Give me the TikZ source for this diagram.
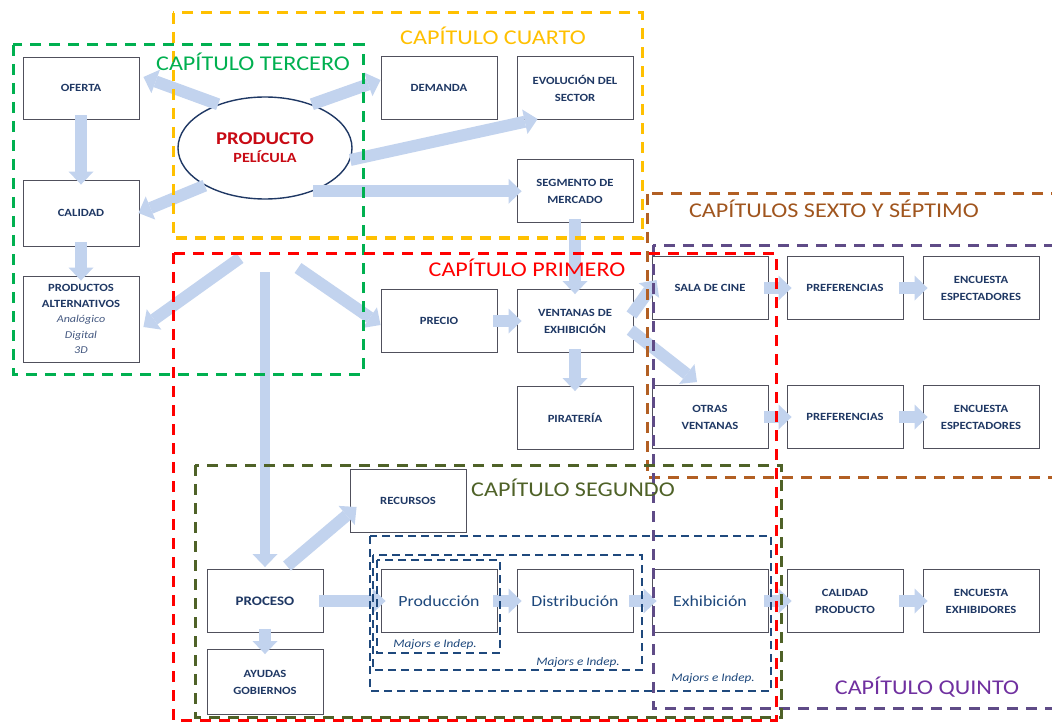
\documentclass[tikz,border=0pt]{standalone}
\usepackage{fontspec}
\setmainfont{Carlito}[FakeStretch=1.15]
\usetikzlibrary{arrows.meta,calc,shapes.geometric}
\definecolor{txtblue}{RGB}{31,56,100}
\definecolor{subblue}{RGB}{70,90,130}
\definecolor{arrowblue}{RGB}{194,211,238}
\definecolor{cgreen}{RGB}{0,176,80}
\definecolor{cyellow}{RGB}{255,192,0}
\definecolor{cred}{RGB}{255,0,0}
\definecolor{cbrown}{RGB}{178,95,35}
\definecolor{cbrowntxt}{RGB}{160,85,30}
\definecolor{cpurple}{RGB}{112,48,160}
\definecolor{cpurpleline}{RGB}{95,75,135}
\definecolor{colive}{RGB}{79,98,40}
\definecolor{cnavy}{RGB}{31,73,125}
\definecolor{boxline}{RGB}{80,80,92}
\definecolor{prodred}{RGB}{200,10,20}
\begin{document}
\begin{tikzpicture}[x=1pt,y=-1pt,
  box/.style={draw=boxline, line width=0.9pt, fill=white, minimum width=116pt,
    minimum height=63pt, inner sep=2pt, align=center,
    font=\fontsize{11}{17}\selectfont\bfseries, text=txtblue},
  bigbox/.style={box, font=\fontsize{15.5}{18}\selectfont, text=cnavy},
  blk/.style={line width=12pt, draw=arrowblue,
    -{Triangle[length=13pt 0 0, width=25pt 0 0, line width=0pt 0 0]}},
  blks/.style={blk, shorten <=-4pt, shorten >=-5pt},
  frame/.style={line width=3pt, dash pattern=on 11pt off 8pt},
  subframe/.style={draw=cnavy, line width=1.5pt, dash pattern=on 8pt off 5pt},
  chap/.style={font=\fontsize{21}{21}\selectfont, anchor=center, inner sep=0pt},
  note/.style={font=\fontsize{11.5}{12}\selectfont\itshape, text=cnavy, inner sep=0pt},
]
\useasboundingbox (0,0) rectangle (1052,722);
\clip (0,0) rectangle (1052,722);
\fill[white] (0,0) rectangle (1052,722);

% ---------- boxes ----------
\node[box, minimum height=62pt] (oferta) at (81,88) {OFERTA};
\node[box, minimum height=66pt] (calidad) at (81,213) {CALIDAD};
\node[box, minimum height=86pt, font=\fontsize{11}{15.5}\selectfont\bfseries] (prodalt) at (81,319)
  {PRODUCTOS\\ALTERNATIVOS\\{\mdseries\itshape\color{subblue}\fontsize{10.5}{15.5}\selectfont Analógico}\\
   {\mdseries\itshape\color{subblue}\fontsize{10.5}{15.5}\selectfont Digital}\\
   {\mdseries\itshape\color{subblue}\fontsize{10.5}{15.5}\selectfont 3D}};
\node[box] (demanda) at (439,88) {DEMANDA};
\node[box] (evol) at (575,88) {EVOLUCIÓN DEL\\SECTOR};
\node[box] (segm) at (575,191) {SEGMENTO DE\\MERCADO};
\node[box] (precio) at (439,321) {PRECIO};
\node[box] (ventanas) at (575,321) {VENTANAS DE\\EXHIBICIÓN};
\node[box] (pirateria) at (575,418) {PIRATERÍA};
\node[box] (sala) at (710,288) {SALA DE CINE};
\node[box] (pref1) at (845,288) {PREFERENCIAS};
\node[box] (enc1) at (981,288) {ENCUESTA\\ESPECTADORES};
\node[box] (otras) at (710,417) {OTRAS\\VENTANAS};
\node[box] (pref2) at (845,417) {PREFERENCIAS};
\node[box] (enc2) at (981,417) {ENCUESTA\\ESPECTADORES};
\node[box] (recursos) at (408,501) {RECURSOS};
\node[box, font=\fontsize{13}{17}\selectfont\bfseries] (proceso) at (265,601) {PROCESO};
\node[box, minimum height=65pt] (ayudas) at (265,682) {AYUDAS\\GOBIERNOS};
\node[bigbox] (produccion) at (439,601) {Producción};
\node[bigbox] (distrib) at (575,601) {Distribución};
\node[bigbox] (exhib) at (710,601) {Exhibición};
\node[box] (calprod) at (845,601) {CALIDAD\\PRODUCTO};
\node[box] (encexh) at (981,601) {ENCUESTA\\EXHIBIDORES};

\node[draw=txtblue, line width=1.4pt, ellipse, fill=white, minimum width=174pt,
  minimum height=102pt, align=center, inner sep=0pt] (prod) at (265,148)
  {{\fontsize{18}{20}\selectfont\bfseries\color{prodred}PRODUCTO}\\[6pt]
   {\fontsize{14}{16}\selectfont\bfseries\color{prodred}PELÍCULA}};

% ---------- arrows ----------
\coordinate (s8) at (240,258);
\coordinate (s9) at (298,268);
\coordinate (s10) at (265,272);

\draw[blk] (prod.137) -- ($(oferta.east)+(4,-11)$);
\draw[blk] (prod.43) -- ($(demanda.west)+(0,-8)$);
\draw[blk] (prod.-8) -- ($(evol.south west)+(21,-1)$);
\draw[blk] (prod.-42) -- ($(prod.-42 -| segm.west)+(5,0)$);
\draw[blk] (prod.212) -- ($(calidad.east)+(-1,0)$);
\draw[blks] (oferta.south) -- (calidad.north);
\draw[blks] (calidad.south) -- (prodalt.north);
\draw[blk] (s8) -- ($(prodalt.east)+(4,8)$);
\draw[blk] (s9) -- ($(precio.west)+(0,4)$);
\draw[blk, line width=10pt] (s10) -- ($(proceso.north)+(0,-2)$);
\draw[blks] (segm.south) -- (ventanas.north);
\draw[blks] (precio.east) -- (ventanas.west);
\draw[blks] (ventanas.south) -- (pirateria.north);
\draw[blk] ($(ventanas.east)+(-2,-6)$) -- ($(sala.west)+(5,-8)$);
\draw[blk] ($(ventanas.east)+(-3,9)$) -- ($(otras.north)+(-13,-3)$);
\draw[blks] (sala.east) -- (pref1.west);
\draw[blks] (pref1.east) -- (enc1.west);
\draw[blks] (otras.east) -- (pref2.west);
\draw[blks] (pref2.east) -- (enc2.west);
\draw[blk] ($(proceso.north)+(22,-3)$) -- ($(recursos.west)+(7,6)$);
\draw[blks] (proceso.east) -- (produccion.west);
\draw[blks] (proceso.south) -- (ayudas.north);
\draw[blks] (produccion.east) -- (distrib.west);
\draw[blks] (distrib.east) -- (exhib.west);
\draw[blks] (exhib.east) -- (calprod.west);
\draw[blks] (calprod.east) -- (encexh.west);

% ---------- dashed chapter frames ----------
\draw[frame, draw=cgreen] (13,45) rectangle (363,374);
\draw[frame, draw=cyellow] (173,13) rectangle (642,238);
\draw[frame, draw=cbrown] (647,194) rectangle (1075,477);
\draw[frame, draw=cpurpleline] (653,245) rectangle (1075,708);
\draw[frame, draw=colive] (195,465) rectangle (781,717);
\draw[frame, draw=cred] (173,253) rectangle (776,720);
\draw[subframe] (370,536) rectangle (771,691);
\draw[subframe] (373,555) rectangle (642,670);
\draw[subframe] (377,560) rectangle (500,653);

% ---------- labels ----------
\node[chap, text=cgreen] (lter) at (253,62) {CAPÍTULO TERCERO};
\node[chap, text=cyellow] (lcua) at (493,36) {CAPÍTULO CUARTO};
\node[chap, text=cred] (lpri) at (527,268) {CAPÍTULO PRIMERO};
\node[chap, text=cbrowntxt] (lsex) at (834,209) {CAPÍTULOS SEXTO Y SÉPTIMO};
\node[chap, text=colive] (lseg) at (573,488) {CAPÍTULO SEGUNDO};
\node[chap, text=cpurple] (lqui) at (927,687) {CAPÍTULO QUINTO};

\node[note] (m1) at (435,644) {Majors e Indep.};
\node[note] (m2) at (578,662) {Majors e Indep.};
\node[note] (m3) at (713,678) {Majors e Indep.};
\end{tikzpicture}
\end{document}
